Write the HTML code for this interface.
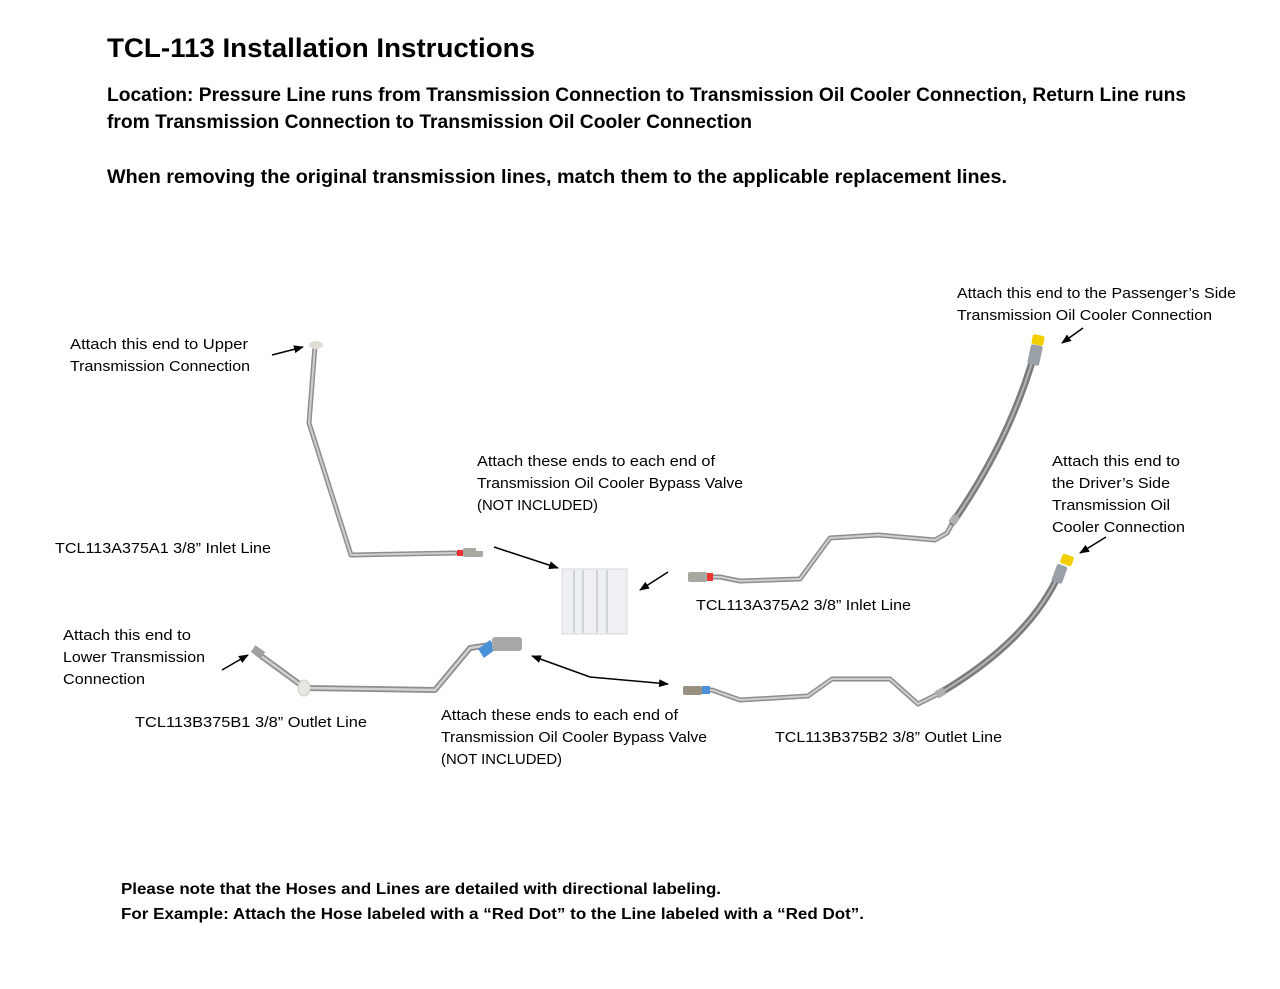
<!DOCTYPE html>
<html><head><meta charset="utf-8"><style>
html,body{margin:0;padding:0;background:#fff;}
svg{display:block;}
text{font-family:"Liberation Sans",sans-serif;fill:#000;}
.b{font-weight:bold;}
.l{font-size:14.5px;}
</style></head><body>
<svg width="1280" height="989" viewBox="0 0 1280 989" xmlns="http://www.w3.org/2000/svg">
<defs>
<marker id="ah" markerWidth="10" markerHeight="8" refX="9" refY="4" orient="auto" markerUnits="userSpaceOnUse"><path d="M0,0 L10,4 L0,8 z" fill="#000"/></marker>
<marker id="as" markerWidth="10" markerHeight="8" refX="1" refY="4" orient="auto" markerUnits="userSpaceOnUse"><path d="M10,0 L0,4 L10,8 z" fill="#000"/></marker>
</defs>
<text x="107" y="57" class="b" font-size="27" textLength="428" lengthAdjust="spacingAndGlyphs">TCL-113 Installation Instructions</text>
<text x="107" y="101" class="b" font-size="19" textLength="1079" lengthAdjust="spacingAndGlyphs">Location: Pressure Line runs from Transmission Connection to Transmission Oil Cooler Connection, Return Line runs</text>
<text x="107" y="128" class="b" font-size="19" textLength="645" lengthAdjust="spacingAndGlyphs">from Transmission Connection to Transmission Oil Cooler Connection</text>
<text x="107" y="183" class="b" font-size="19" textLength="900" lengthAdjust="spacingAndGlyphs">When removing the original transmission lines, match them to the applicable replacement lines.</text>

<g class="l">
<text x="70" y="349" textLength="178" lengthAdjust="spacingAndGlyphs">Attach this end to Upper</text>
<text x="70" y="371" textLength="180" lengthAdjust="spacingAndGlyphs">Transmission Connection</text>
<text x="957" y="298" textLength="279" lengthAdjust="spacingAndGlyphs">Attach this end to the Passenger’s Side</text>
<text x="957" y="320" textLength="255" lengthAdjust="spacingAndGlyphs">Transmission Oil Cooler Connection</text>
<text x="477" y="466" textLength="238" lengthAdjust="spacingAndGlyphs">Attach these ends to each end of</text>
<text x="477" y="488" textLength="266" lengthAdjust="spacingAndGlyphs">Transmission Oil Cooler Bypass Valve</text>
<text x="477" y="510" textLength="121" lengthAdjust="spacingAndGlyphs">(NOT INCLUDED)</text>
<text x="1052" y="466" textLength="128" lengthAdjust="spacingAndGlyphs">Attach this end to</text>
<text x="1052" y="488" textLength="118" lengthAdjust="spacingAndGlyphs">the Driver’s Side</text>
<text x="1052" y="510" textLength="118" lengthAdjust="spacingAndGlyphs">Transmission Oil</text>
<text x="1052" y="532" textLength="133" lengthAdjust="spacingAndGlyphs">Cooler Connection</text>
<text x="55" y="553" textLength="216" lengthAdjust="spacingAndGlyphs">TCL113A375A1 3/8” Inlet Line</text>
<text x="696" y="610" textLength="215" lengthAdjust="spacingAndGlyphs">TCL113A375A2 3/8” Inlet Line</text>
<text x="63" y="640" textLength="128" lengthAdjust="spacingAndGlyphs">Attach this end to</text>
<text x="63" y="662" textLength="142" lengthAdjust="spacingAndGlyphs">Lower Transmission</text>
<text x="63" y="684" textLength="82" lengthAdjust="spacingAndGlyphs">Connection</text>
<text x="135" y="727" textLength="232" lengthAdjust="spacingAndGlyphs">TCL113B375B1  3/8” Outlet Line</text>
<text x="441" y="720" textLength="237" lengthAdjust="spacingAndGlyphs">Attach these ends to each end of</text>
<text x="441" y="742" textLength="266" lengthAdjust="spacingAndGlyphs">Transmission Oil Cooler Bypass Valve</text>
<text x="441" y="764" textLength="121" lengthAdjust="spacingAndGlyphs">(NOT INCLUDED)</text>
<text x="775" y="742" textLength="227" lengthAdjust="spacingAndGlyphs">TCL113B375B2 3/8” Outlet Line</text>
</g>
<text x="121" y="894" class="b" font-size="15.5" textLength="600" lengthAdjust="spacingAndGlyphs">Please note that the Hoses and Lines are detailed with directional labeling.</text>
<text x="121" y="919" class="b" font-size="15.5" textLength="743" lengthAdjust="spacingAndGlyphs">For Example: Attach the Hose labeled with a “Red Dot” to the Line labeled with a “Red Dot”.</text>

<g stroke="#000" stroke-width="1.5" fill="none">
<line x1="272" y1="355" x2="303" y2="347" marker-end="url(#ah)"/>
<line x1="1083" y1="328" x2="1062" y2="343" marker-end="url(#ah)"/>
<line x1="1106" y1="537" x2="1080" y2="553" marker-end="url(#ah)"/>
<line x1="494" y1="547" x2="558" y2="568" marker-end="url(#ah)"/>
<line x1="668" y1="572" x2="640" y2="590" marker-end="url(#ah)"/>
<line x1="222" y1="670" x2="248" y2="655" marker-end="url(#ah)"/>
<polyline points="532,656 590,677 668,684" marker-start="url(#as)" marker-end="url(#ah)"/>
</g>

<rect x="562" y="569" width="65" height="65" fill="#eef0f3" stroke="#d5d8dc"/>
<g stroke="#c7ccd2" stroke-width="1.5"><line x1="574" y1="570" x2="574" y2="633"/><line x1="583" y1="570" x2="583" y2="633"/><line x1="597" y1="570" x2="597" y2="633"/><line x1="607" y1="570" x2="607" y2="633"/></g>

<g fill="none" stroke-linejoin="round" stroke-linecap="round">
<polyline points="315,346 309,423 351,555 455,553" stroke="#8e8e8e" stroke-width="5"/>
<polyline points="315,346 309,423 351,555 455,553" stroke="#cfcfcf" stroke-width="2"/>
<polyline points="257,653 305,688 435,690 470,648 490,645" stroke="#8e8e8e" stroke-width="6"/>
<polyline points="257,653 305,688 435,690 470,648 490,645" stroke="#d2d2d2" stroke-width="2.5"/>
<polyline points="700,577 720,577 740,581 800,579 830,538 878,535 935,540 947,533 953,522" stroke="#8e8e8e" stroke-width="5"/>
<polyline points="700,577 720,577 740,581 800,579 830,538 878,535 935,540 947,533 953,522" stroke="#cfcfcf" stroke-width="2"/>
<polyline points="695,691 712,690 740,700 808,696 832,679 890,679 918,704 940,693" stroke="#8e8e8e" stroke-width="5"/>
<polyline points="695,691 712,690 740,700 808,696 832,679 890,679 918,704 940,693" stroke="#cfcfcf" stroke-width="2"/>
<path d="M953,522 Q1010,440 1035,352" stroke="#7b7b7b" stroke-width="7"/>
<path d="M953,522 Q1010,440 1035,352" stroke="#b5b5b5" stroke-width="2"/>
<path d="M940,693 Q1030,640 1060,572" stroke="#7b7b7b" stroke-width="7"/>
<path d="M940,693 Q1030,640 1060,572" stroke="#b5b5b5" stroke-width="2"/>
</g>
<rect x="950" y="516" width="9" height="8" fill="#b0b0b0" transform="rotate(-55 954 520)"/>
<rect x="936" y="689" width="9" height="8" fill="#b0b0b0" transform="rotate(-30 940 693)"/>
<rect x="457" y="550" width="6" height="6" fill="#e33"/>
<rect x="463" y="548" width="20" height="9" rx="2" fill="#a8a8a0"/>
<rect x="476" y="545" width="12" height="6" fill="#fff"/>
<rect x="707" y="573" width="6" height="8" fill="#e33"/>
<rect x="688" y="572" width="19" height="10" rx="2" fill="#a8a8a0"/>
<rect x="702" y="686" width="8" height="8" fill="#4a90d9"/>
<rect x="683" y="686" width="19" height="9" rx="2" fill="#9a9080"/>
<polygon points="478,649 490,640 496,649 484,658" fill="#4a90d9"/>
<rect x="492" y="637" width="30" height="14" rx="3" fill="#a8a8a8"/>
<ellipse cx="304" cy="688" rx="6" ry="8" fill="#e8e6e0" stroke="#ccc"/>
<rect x="252" y="648" width="12" height="8" fill="#a0a0a0" transform="rotate(35 258 652)"/>
<ellipse cx="316" cy="345" rx="7" ry="4" fill="#e0ddd6"/>
<rect x="1029" y="345" width="12" height="20" rx="2" fill="#9aa0a8" transform="rotate(12 1035 355)"/>
<rect x="1032" y="335" width="12" height="10" rx="2" fill="#f2d000" transform="rotate(12 1038 340)"/>
<rect x="1054" y="565" width="11" height="18" rx="2" fill="#9aa0a8" transform="rotate(20 1060 574)"/>
<rect x="1061" y="555" width="12" height="10" rx="2" fill="#f2d000" transform="rotate(20 1067 560)"/>
</svg>
</body></html>
